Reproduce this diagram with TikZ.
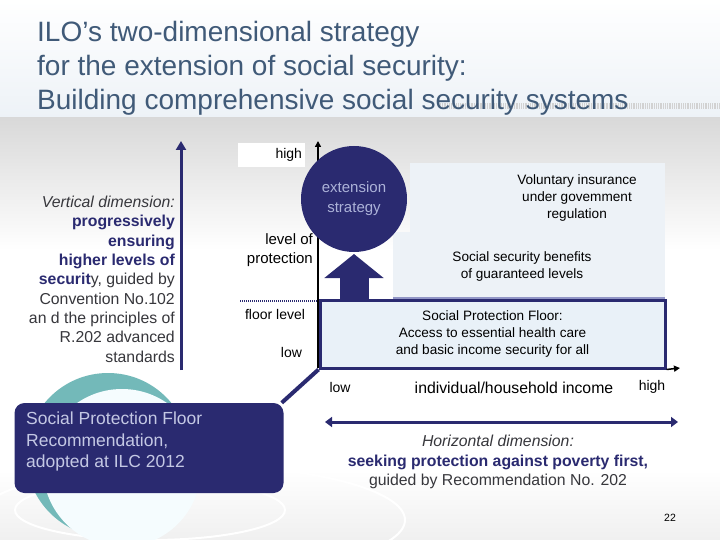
\documentclass[tikz,border=0pt]{standalone}
\usepackage{fontspec}
\setmainfont{Liberation Sans}
\usepackage{xcolor}
\usetikzlibrary{positioning,arrows.meta}

\definecolor{ilonavy}{RGB}{42,42,112}
\definecolor{titleblue}{RGB}{64,90,120}
\definecolor{paleblue}{RGB}{237,242,247}
\definecolor{floorblue}{RGB}{233,241,248}
\definecolor{calltext}{RGB}{196,200,228}
\definecolor{circtext}{RGB}{172,178,216}
\definecolor{greytext}{RGB}{55,55,60}
\definecolor{edgeblue}{RGB}{146,150,198}

\begin{document}
\begin{tikzpicture}[x=1pt, y=-1pt,
    lbl/.style={font=\fontsize{14}{17}\selectfont, text=black, inner sep=0pt, align=center},
    boxtext/.style={lbl, font=\fontsize{13.6}{17}\selectfont},
    sidetext/.style={font=\fontsize{15.8}{19.3}\selectfont, text=greytext, inner sep=0pt, align=right},
    valuebox/.style={fill=white, text width=61pt, align=right, minimum height=24pt, inner xsep=3pt,
      font=\fontsize{14}{17}\selectfont},
    band/.style={fill=paleblue, draw=none},
    navyline/.style={ilonavy, line width=3pt}]

  \useasboundingbox (0,0) rectangle (720,540);

  % Background
  \begin{scope}
    \clip (0,0) rectangle (720,540);
    \fill[white] (0,0) rectangle (720,540);
    \shade[top color=white, bottom color=paleblue] (0,0) rectangle (720,118);
    \shade[top color=gray!30, bottom color=white] (0,118) rectangle (720,250);
    \shade[top color=white, bottom color=gray!12] (0,470) rectangle (720,540);
    \draw[gray!35, line width=6pt, dash pattern=on 0.6pt off 1.2pt] (440,106) -- (720,106);
    % globe behind the callout
    \draw[white, line width=2pt] (150,510) ellipse (135 and 30);
    \draw[white, line width=2pt] (190,520) ellipse (215 and 55);
    \fill[teal!55] (108,455) circle (82);
    \fill[cyan!4!white] (122,468) circle (79);
  \end{scope}

  % Title
  \node[anchor=north west, font=\fontsize{28}{34}\selectfont, text=titleblue, align=left, inner sep=0pt]
    (title) at (37,21) {ILO’s two-dimensional strategy\\for the extension of social security:\\Building comprehensive social security systems};

  % Vertical dimension
  \draw[navyline, -{Triangle[length=9pt,width=10pt]}] (181,370) -- (181,141);
  \node[sidetext, anchor=north east] (vdim) at (175,196) {%
    \textit{Vertical dimension:}\\
    \textcolor{ilonavy}{\textbf{progressively}}\\
    \textcolor{ilonavy}{\textbf{ensuring}}\\
    \textcolor{ilonavy}{\textbf{higher levels of}}\\
    \textcolor{ilonavy}{\textbf{securit}}y, guided by\\
    Convention No.102\\
    an d the principles of\\
    R.202 advanced\\
    standards};

  % Boxes of the staircase
  \fill[band] (410,163) rectangle (665,232);
  \fill[band] (393,232) rectangle (665,299);
  \draw[edgeblue, line width=2pt] (393,298) -- (665,298);
  \node[boxtext] (volun) at (577,198) {Voluntary insurance\\under govemment\\regulation};
  \node[boxtext] (benef) at (522,266) {Social security benefits\\of guaranteed levels};

  % Axes
  \draw[black, line width=1.5pt, -{Triangle[length=6pt,width=6pt]}] (318,368) -- (318,141);
  \node[draw=ilonavy, line width=3pt, fill=floorblue, minimum width=345pt, minimum height=68pt,
    boxtext] (floor) at (492.5,334)
    {Social Protection Floor:\\Access to essential health care\\and basic income security for all};
  \draw[black, line width=1.5pt, -{Triangle[length=6pt,width=6pt]}] (floor.south east) -- (680,368);

  % Extension strategy
  \node[circle, fill=ilonavy, minimum size=106pt, text=circtext, align=center,
    font=\fontsize{15}{20}\selectfont] (ext) at (354,199) {extension\\strategy};
  \draw[ilonavy, line width=29pt, -{Triangle[length=24pt,width=58pt]}] (354,300) -- (354,254);

  % Level labels
  \node[valuebox] (highbox) at (271.5,155) {high};
  \node[valuebox] (lowbox) at (271.5,352.5) {low};
  \node[lbl, align=right, anchor=east, font=\fontsize{15}{19}\selectfont] (level) at (313,250) {level of\\protection};
  \node[lbl] (floorlvl) at (275,314) {floor level};
  \draw[ilonavy, line width=2.5pt, dash pattern=on 1pt off 1pt] (240,301) -- (318,301);

  % Income labels
  \node[lbl] (lowinc) at (340,387) {low};
  \node[lbl, font=\fontsize{15.8}{17}\selectfont] (income) at (514,388) {individual/household income};
  \node[lbl] (highinc) at (652,387) {high};

  % Callout
  \node[fill=ilonavy, rounded corners=10pt, minimum width=269pt, minimum height=90pt] (callout) at (149,448) {};
  \node[anchor=north west, align=left, inner sep=0pt, text=calltext, font=\fontsize{17.5}{21.5}\selectfont]
    (calltxt) at (26,412) {Social Protection Floor\\Recommendation,\\adopted at ILC 2012};
  \draw[ilonavy, line width=4pt] (floor.south west) -- ([xshift=-2pt]callout.north east);

  % Horizontal dimension
  \draw[navyline, {Triangle[length=7pt,width=10pt]}-{Triangle[length=7pt,width=10pt]}] (325,422) -- (678,422);
  \node[lbl, font=\fontsize{15.8}{19.5}\selectfont, text=greytext] (hdim) at (498,462)
    {\textit{Horizontal dimension:}\\\textcolor{ilonavy}{\textbf{seeking protection against poverty first,}}\\guided by Recommendation No. 202};

  \node[lbl, font=\fontsize{10.5}{12}\selectfont] (page) at (670,518) {22};
\end{tikzpicture}
\end{document}
